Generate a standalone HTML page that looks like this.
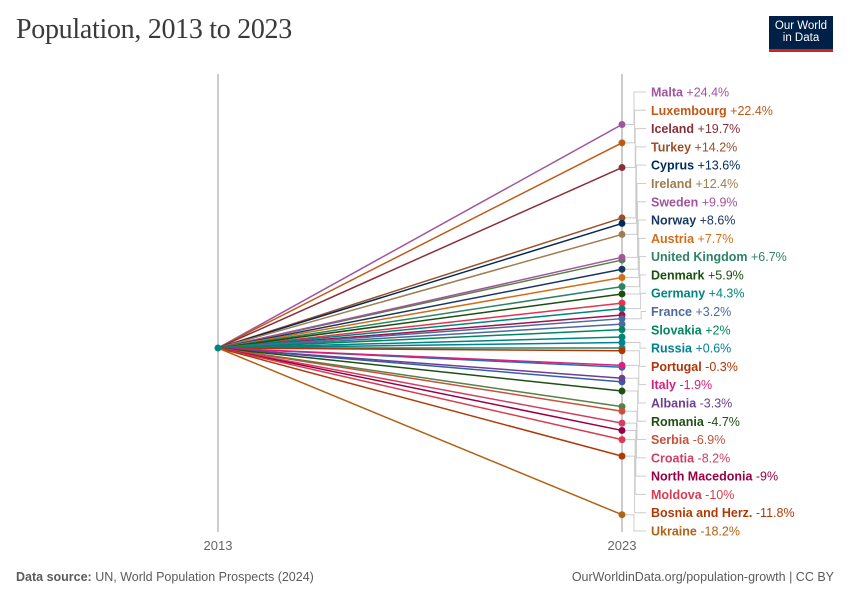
<!DOCTYPE html>
<html><head><meta charset="utf-8">
<style>
body{margin:0;background:#fff;font-family:"Liberation Sans",sans-serif;}
#wrap{position:relative;width:850px;height:600px;overflow:hidden;}
h1{position:absolute;left:16px;top:14px;margin:0;font-family:"Liberation Serif",serif;font-weight:normal;font-size:28px;color:#3a3a3a;letter-spacing:-0.3px;}
#logo{position:absolute;left:769px;top:16px;width:64px;height:36px;background:#002147;color:#fff;font-size:11.5px;line-height:12px;text-align:center;padding-top:4px;box-sizing:border-box;border-bottom:3px solid #ce261e;}
.foot{position:absolute;top:570px;font-size:12.5px;color:#5b5b5b;}
</style></head><body>
<div id="wrap">
<h1>Population, 2013 to 2023</h1>
<div id="logo">Our World<br>in Data</div>
<svg id="chart" width="850" height="600" style="position:absolute;left:0;top:0"></svg>
<div class="foot" style="left:16px"><b>Data source:</b> UN, World Population Prospects (2024)</div>
<div class="foot" style="right:16px">OurWorldinData.org/population-growth | CC BY</div>
</div>
<script>
const countries=["Malta","Luxembourg","Iceland","Turkey","Cyprus","Ireland","Sweden","Norway","Austria","United Kingdom","Denmark","Germany","France","Slovakia","Russia","Portugal","Italy","Albania","Romania","Serbia","Croatia","North Macedonia","Moldova","Bosnia and Herz.","Ukraine"];
const changes=[24.4,22.4,19.7,14.2,13.6,12.4,9.9,8.6,7.7,6.7,5.9,4.3,3.2,2,0.6,-0.3,-1.9,-3.3,-4.7,-6.9,-8.2,-9,-10,-11.8,-18.2];
const colors=["#a2559c","#c05917","#883039","#9a5129","#00295b","#a07c4f","#a2559c","#18375f","#d16e1a","#2c8465","#1a4f0f","#00847e","#4c6a9c","#00875e","#008291","#b13507","#d8217a","#6d3e91","#1f4f14","#c4523e","#cf3f63","#970046","#d73c50","#b03a06","#b16214"];
const otherChanges=[9.6,4.9,3.6,2.6,1.2,0,-2.1,-3.7,-6.4];
const otherColors=["#578145","#e5344f","#a2124f","#4c6a9c","#00847e","#2c8465","#286bbb","#3360a9","#578145"];
const NS="http://www.w3.org/2000/svg";
const svg=document.getElementById('chart');
const x0=218,x1=622;
function yScale(v){return 348-v*9.16;}
function mk(t,a){const e=document.createElementNS(NS,t);for(const k in a)e.setAttribute(k,a[k]);svg.appendChild(e);return e;}
let ax=mk('line',{x1:x0,y1:74,x2:x0,y2:532,stroke:'#ccc','stroke-width':2});

ax=mk('line',{x1:x1,y1:74,x2:x1,y2:532,stroke:'#ccc','stroke-width':2});

let t=mk('text',{x:x0,y:550,'text-anchor':'middle','font-size':13,fill:'#666'});t.textContent='2013';

t=mk('text',{x:x1,y:550,'text-anchor':'middle','font-size':13,fill:'#666'});t.textContent='2023';

otherChanges.forEach((v,i)=>{
 const l=mk('line',{x1:x0,y1:yScale(0),x2:x1,y2:yScale(v),stroke:otherColors[i],'stroke-width':1.5});
 
 const c=mk('circle',{cx:x1,cy:yScale(v),r:3.5,fill:otherColors[i]});
 
});
const n=countries.length;
countries.forEach((name,i)=>{
 const v=changes[i],y=yScale(v),col=colors[i];
 const l=mk('line',{x1:x0,y1:yScale(0),x2:x1,y2:y,stroke:col,'stroke-width':1.5});
 
 const c=mk('circle',{cx:x1,cy:y,r:3.5,fill:col});
 
 const ly=92+i*(531-92)/(n-1);
 const ex=634+Math.min(i,n-1-i)*0.6;
 const p=mk('polyline',{points:`${x1+4},${y} ${ex},${y} ${ex},${ly} ${646},${ly}`,fill:'none',stroke:'#ccc','stroke-width':1});
 
 const tx=mk('text',{x:651,y:ly+4.5,'font-size':12.5,fill:col});
 
 const b=document.createElementNS(NS,'tspan');b.setAttribute('font-weight','bold');b.textContent=name;tx.appendChild(b);
 const s=document.createElementNS(NS,'tspan');s.textContent=' '+(v>0?'+':'')+v+'%';tx.appendChild(s);
});
const sc=mk('circle',{cx:x0,cy:yScale(0),r:3.5,fill:'#00847e'});

</script>
</body></html>
